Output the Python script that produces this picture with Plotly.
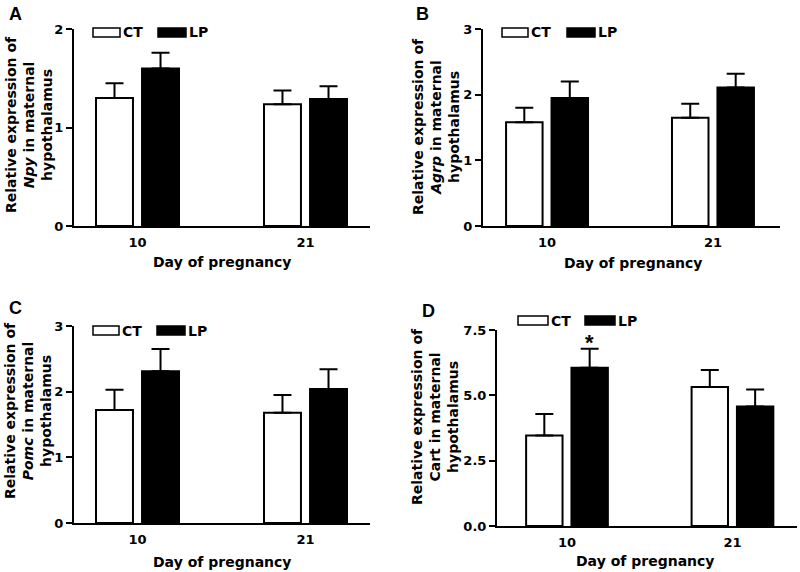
import plotly.graph_objects as go

W, H = 800, 572

days = ["10", "21"]

npy_ct = [1.30, 1.235]
npy_ct_err = [0.15, 0.14]
npy_lp = [1.60, 1.29]
npy_lp_err = [0.16, 0.13]

agrp_ct = [1.58, 1.65]
agrp_ct_err = [0.22, 0.21]
agrp_lp = [1.95, 2.11]
agrp_lp_err = [0.25, 0.21]

pomc_ct = [1.72, 1.68]
pomc_ct_err = [0.31, 0.27]
pomc_lp = [2.31, 2.04]
pomc_lp_err = [0.34, 0.30]

cart_ct = [3.46, 5.32]
cart_ct_err = [0.83, 0.65]
cart_lp = [6.06, 4.57]
cart_lp_err = [0.72, 0.65]

ticks_a = [0, 1, 2]
ticks_b = [0, 1, 2, 3]
ticks_c = [0, 1, 2, 3]
ticks_d = [0, 2.5, 5.0, 7.5]
ticktext_d = ["0.0", "2.5", "5.0", "7.5"]

BARGAP = 0.452
BARGROUPGAP = 0.197
FONT = "DejaVu Sans, Arial, sans-serif"

panels = [
    dict(letter="A", gene="<i>Npy</i>", ct=npy_ct, cte=npy_ct_err, lp=npy_lp, lpe=npy_lp_err,
         ticks=ticks_a, ticktext=[str(t) for t in ticks_a], ymax=2,
         xpx=(74, 370), ypx=(29, 226), xr=(-0.378, 1.384),
         letter_pos=(15, 14), ytitle_pos=(29, 125), xtitle_pos=(222, 262),
         leg=(93, 120, 158, 186, 28, 37)),
    dict(letter="B", gene="<i>Agrp</i>", ct=agrp_ct, cte=agrp_ct_err, lp=agrp_lp, lpe=agrp_lp_err,
         ticks=ticks_b, ticktext=[str(t) for t in ticks_b], ymax=3,
         xpx=(483, 780), ypx=(29, 226), xr=(-0.386, 1.404),
         letter_pos=(422, 14), ytitle_pos=(436, 127), xtitle_pos=(633, 263),
         leg=(502, 528, 567, 595, 28, 37)),
    dict(letter="C", gene="<i>Pomc</i>", ct=pomc_ct, cte=pomc_ct_err, lp=pomc_lp, lpe=pomc_lp_err,
         ticks=ticks_c, ticktext=[str(t) for t in ticks_c], ymax=3,
         xpx=(74, 370), ypx=(326, 523), xr=(-0.378, 1.384),
         letter_pos=(15, 308), ytitle_pos=(28, 411), xtitle_pos=(222, 562),
         leg=(93, 119, 157, 185, 326, 335)),
    dict(letter="D", gene="Cart", ct=cart_ct, cte=cart_ct_err, lp=cart_lp, lpe=cart_lp_err,
         ticks=ticks_d, ticktext=ticktext_d, ymax=7.5,
         xpx=(497, 797), ypx=(330, 526), xr=(-0.423, 1.390),
         letter_pos=(428, 311), ytitle_pos=(435, 416), xtitle_pos=(645, 561),
         leg=(518, 548, 585, 615, 316, 325)),
]

fig = go.Figure()
shapes = []
annotations = []


def px_x(v):
    return v / W


def px_y(v):
    return 1 - v / H


for i, p in enumerate(panels):
    n = "" if i == 0 else str(i + 1)
    xa, ya = "x" + n, "y" + n
    fig.add_trace(go.Bar(
        x=days, y=p["ct"], xaxis=xa, yaxis=ya, name="CT", showlegend=False,
        marker=dict(color="white", line=dict(color="black", width=2)),
        error_y=dict(type="data", array=p["cte"], arrayminus=[0] * len(days), symmetric=False,
                     color="black", thickness=2, width=9),
    ))
    fig.add_trace(go.Bar(
        x=days, y=p["lp"], xaxis=xa, yaxis=ya, name="LP", showlegend=False,
        marker=dict(color="black", line=dict(color="black", width=2)),
        error_y=dict(type="data", array=p["lpe"], arrayminus=[0] * len(days), symmetric=False,
                     color="black", thickness=2, width=9),
    ))
    fig.layout["xaxis" + n] = dict(
        domain=[px_x(p["xpx"][0]), px_x(p["xpx"][1])], anchor=ya,
        type="category", range=list(p["xr"]), automargin=False,
        showline=True, linecolor="black", linewidth=2,
        ticks="outside", ticklen=3, tickcolor="rgba(0,0,0,0)",
        tickfont=dict(family=FONT, size=13, color="black", weight="bold"),
        showgrid=False, zeroline=False, fixedrange=True,
    )
    fig.layout["yaxis" + n] = dict(
        domain=[px_y(p["ypx"][1]), px_y(p["ypx"][0])], anchor=xa,
        range=[0, p["ymax"]], tickvals=p["ticks"], ticktext=p["ticktext"], automargin=False,
        showline=True, linecolor="black", linewidth=2,
        ticks="outside", ticklen=6, tickwidth=2, tickcolor="black",
        tickfont=dict(family=FONT, size=13, color="black", weight="bold"),
        showgrid=False, zeroline=False, fixedrange=True,
    )
    # panel letter
    annotations.append(dict(
        text="<b>%s</b>" % p["letter"], x=px_x(p["letter_pos"][0]), y=px_y(p["letter_pos"][1]),
        xref="paper", yref="paper", xanchor="center", yanchor="middle", showarrow=False,
        font=dict(family="Arial, Liberation Sans, sans-serif", size=18, color="black")))
    # y title
    annotations.append(dict(
        text="<b>Relative expression of<br>%s in maternal<br>hypothalamus</b>" % p["gene"],
        x=px_x(p["ytitle_pos"][0]), y=px_y(p["ytitle_pos"][1]),
        xref="paper", yref="paper", xanchor="center", yanchor="middle", showarrow=False,
        textangle=-90, align="center",
        font=dict(family=FONT, size=14, color="black")))
    # x title
    annotations.append(dict(
        text="<b>Day of pregnancy</b>", x=px_x(p["xtitle_pos"][0]), y=px_y(p["xtitle_pos"][1]),
        xref="paper", yref="paper", xanchor="center", yanchor="middle", showarrow=False,
        font=dict(family=FONT, size=14, color="black")))
    # legend boxes
    cx0, cx1, lx0, lx1, ly0, ly1 = p["leg"]
    shapes.append(dict(type="rect", xref="paper", yref="paper",
                       x0=px_x(cx0), x1=px_x(cx1), y0=px_y(ly1), y1=px_y(ly0),
                       fillcolor="white", line=dict(color="black", width=1.5)))
    shapes.append(dict(type="rect", xref="paper", yref="paper",
                       x0=px_x(lx0), x1=px_x(lx1), y0=px_y(ly1), y1=px_y(ly0),
                       fillcolor="black", line=dict(color="black", width=1.5)))
    ymid = (ly0 + ly1) / 2
    annotations.append(dict(text="<b>CT</b>", x=px_x(cx1 + 1), y=px_y(ymid), xref="paper", yref="paper",
                            xanchor="left", yanchor="middle", showarrow=False,
                            font=dict(family=FONT, size=14, color="black")))
    annotations.append(dict(text="<b>LP</b>", x=px_x(lx1 + 1), y=px_y(ymid), xref="paper", yref="paper",
                            xanchor="left", yanchor="middle", showarrow=False,
                            font=dict(family=FONT, size=14, color="black")))

# significance asterisk above LP bar at day 10 in panel D
lp_offset = (1 - BARGAP) / 4
annotations.append(dict(
    text="<b>*</b>", x=days.index("10") + lp_offset, y=cart_lp[0] + cart_lp_err[0],
    xref="x4", yref="y4", xanchor="center", yanchor="bottom", showarrow=False, yshift=-8,
    font=dict(family="Arial, Liberation Sans, sans-serif", size=22, color="black")))

fig.update_layout(
    template="none",
    width=W, height=H, margin=dict(l=0, r=0, t=0, b=0, pad=0, autoexpand=False),
    paper_bgcolor="white", plot_bgcolor="white",
    barmode="group", bargap=BARGAP, bargroupgap=BARGROUPGAP,
    showlegend=False, shapes=shapes, annotations=annotations,
    font=dict(family=FONT, color="black"),
)

fig.write_html("out.html", config={"displayModeBar": False},
               post_script="document.body.style.margin='0';")
